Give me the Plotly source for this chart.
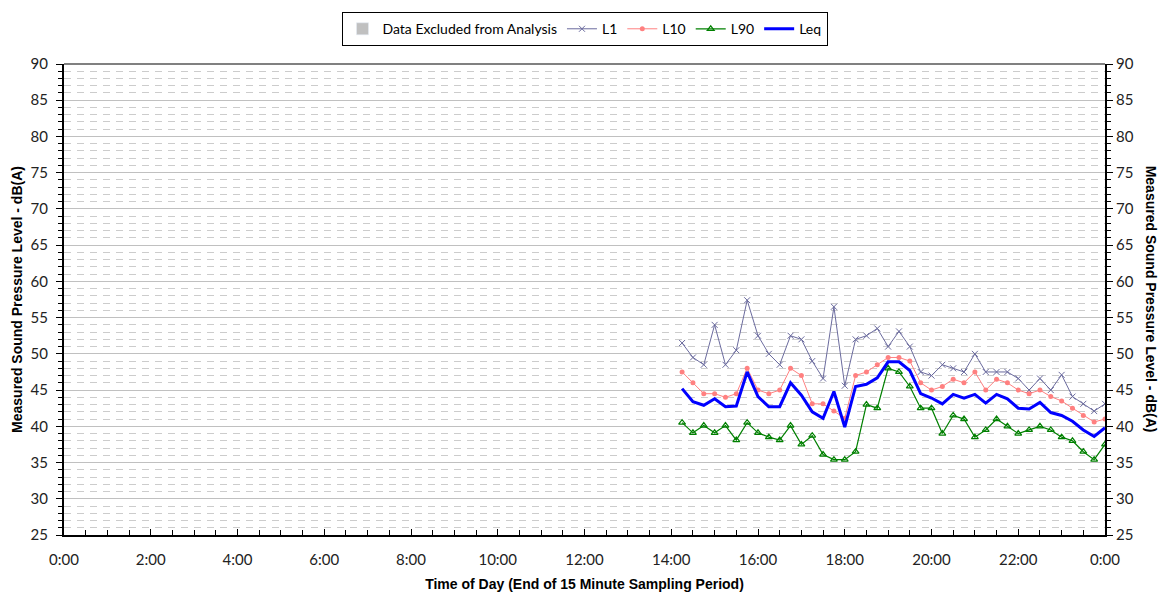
import plotly.graph_objects as go

times = ["14:15", "14:30", "14:45", "15:00", "15:15", "15:30", "15:45", "16:00",
         "16:15", "16:30", "16:45", "17:00", "17:15", "17:30", "17:45", "18:00",
         "18:15", "18:30", "18:45", "19:00", "19:15", "19:30", "19:45", "20:00",
         "20:15", "20:30", "20:45", "21:00", "21:15", "21:30", "21:45", "22:00",
         "22:15", "22:30", "22:45", "23:00", "23:15", "23:30", "23:45", "24:00"]

L1 = [51.5, 49.5, 48.5, 54.0, 48.5, 50.5, 57.4, 52.5, 50.0, 48.5,
      52.5, 52.0, 49.0, 46.6, 56.5, 45.6, 52.0, 52.5, 53.5, 51.0, 53.1,
      51.0, 47.5, 47.0, 48.5, 48.0, 47.5, 50.0, 47.5, 47.5, 47.5,
      46.6, 45.0, 46.6, 45.0, 47.1, 44.1, 43.1, 42.1, 43.1]
L10 = [47.5, 46.0, 44.5, 44.5, 44.0, 44.5, 48.0, 45.0, 44.5, 45.0,
       48.0, 47.0, 43.1, 43.1, 42.1, 41.1, 47.0, 47.5, 48.5, 49.5, 49.5,
       49.0, 46.0, 45.0, 45.5, 46.5, 46.0, 47.5, 45.0, 46.5, 46.0,
       45.0, 44.5, 45.0, 44.1, 43.5, 42.5, 41.5, 40.6, 41.0]
L90 = [40.5, 39.1, 40.1, 39.1, 40.1, 38.1, 40.5, 39.1, 38.5, 38.1,
       40.1, 37.5, 38.7, 36.1, 35.4, 35.4, 36.5, 43.0, 42.5, 48.0, 47.5,
       45.5, 42.5, 42.5, 39.0, 41.5, 41.0, 38.5, 39.5, 41.0, 40.0,
       39.0, 39.5, 40.0, 39.5, 38.5, 38.0, 36.5, 35.4, 37.5]
Leq = [45.2, 43.4, 42.9, 43.8, 42.7, 42.8, 47.5, 44.1, 42.7, 42.7,
       46.0, 44.3, 42.0, 41.1, 44.8, 39.9, 45.5, 45.8, 46.7, 48.9, 48.9,
       47.7, 44.5, 43.9, 43.1, 44.4, 43.9, 44.4, 43.2, 44.4, 43.8,
       42.5, 42.4, 43.3, 41.9, 41.5, 40.7, 39.5, 38.6, 39.8]


def to_dt(t):
    h, m = t.split(":")
    if h == "24":
        return "2000-01-02 00:%s" % m
    return "2000-01-01 %02d:%s" % (int(h), m)


x = [to_dt(t) for t in times]

TICK_FONT = dict(family="Lato, 'DejaVu Sans', sans-serif", size=15, color="#222")
TITLE_FONT = dict(family="'Liberation Sans', Arial, sans-serif", size=14, color="#000")

fig = go.Figure()
fig.add_trace(go.Bar(x=[None], y=[None], name="Data Excluded from Analysis",
                     marker=dict(color="#c0c0c0"), yaxis="y2"))
fig.add_trace(go.Scatter(x=x, y=L1, name="L1", mode="lines+markers",
                         line=dict(color="#6b6b9e", width=1),
                         marker=dict(symbol="x-thin-open", size=6,
                                     line=dict(color="#6b6b9e", width=1))))
fig.add_trace(go.Scatter(x=x, y=L10, name="L10", mode="lines+markers",
                         line=dict(color="#ff8080", width=1),
                         marker=dict(symbol="circle", size=5, color="#ff8080")))
fig.add_trace(go.Scatter(x=x, y=L90, name="L90", mode="lines+markers",
                         line=dict(color="#008000", width=1.2),
                         marker=dict(symbol="triangle-up-open", size=6,
                                     line=dict(color="#008000", width=1.2))))
fig.add_trace(go.Scatter(x=x, y=Leq, name="Leq", mode="lines",
                         line=dict(color="#0000ff", width=3)))

fig.update_layout(
    width=1163, height=598,
    margin=dict(l=64, r=58, t=58, b=63),
    paper_bgcolor="white", plot_bgcolor="white",
    showlegend=True,
    legend=dict(orientation="h", x=0.5, xanchor="center", y=1.11, yanchor="top",
                bordercolor="#000", borderwidth=1, bgcolor="white",
                font=dict(family="Lato, 'DejaVu Sans', sans-serif", size=14, color="#000"),
                itemwidth=30, tracegroupgap=0),
    xaxis=dict(type="date", automargin=False,
               range=["2000-01-01 00:00", "2000-01-02 00:00"],
               dtick=7200000, tick0="2000-01-01 00:00", tickformat="%-H:%M",
               showgrid=False, zeroline=False,
               showline=True, linecolor="#000", linewidth=2,
               ticks="inside", ticklen=6, tickcolor="#000",
               minor=dict(dtick=1800000, ticks="inside", ticklen=5, tickcolor="#000", showgrid=False),
               tickfont=TICK_FONT, ticklabelstandoff=10,
               title=dict(text="<b>Time of Day (End of 15 Minute Sampling Period)</b>",
                          font=TITLE_FONT, standoff=12)),
    yaxis=dict(range=[25, 90], dtick=5, tick0=25, automargin=False,
               showgrid=True, gridcolor="#c0c0c0", gridwidth=1,
               zeroline=False, showline=True, linecolor="#000", linewidth=2,
               ticks="outside", ticklen=6, tickcolor="#000",
               minor=dict(dtick=1, ticks="outside", ticklen=4, tickcolor="#000",
                          showgrid=True, gridcolor="#cccccc", griddash="7px,6px", gridwidth=1),
               tickfont=TICK_FONT, ticklabelstandoff=5,
               title=dict(text="<b>Measured Sound Pressure Level - dB(A)</b>",
                          font=TITLE_FONT, standoff=5)),
    yaxis2=dict(range=[25, 90], dtick=5, tick0=25, overlaying="y", side="right",
                automargin=False,
                showgrid=False, zeroline=False, showline=True, linecolor="#000", linewidth=2,
                ticks="outside", ticklen=6, tickcolor="#000",
                minor=dict(dtick=1, ticks="outside", ticklen=4, tickcolor="#000"),
                tickfont=TICK_FONT),
    annotations=[dict(text="<b>Measured Sound Pressure Level - dB(A)</b>",
                      xref="paper", yref="paper", x=1.045, y=0.5, textangle=90,
                      showarrow=False, font=TITLE_FONT, xanchor="center", yanchor="middle")],
    shapes=[dict(type="line", xref="paper", yref="paper", x0=0, x1=1, y0=1, y1=1,
                 line=dict(color="#808080", width=2))],
)

fig.write_html("out.html")
